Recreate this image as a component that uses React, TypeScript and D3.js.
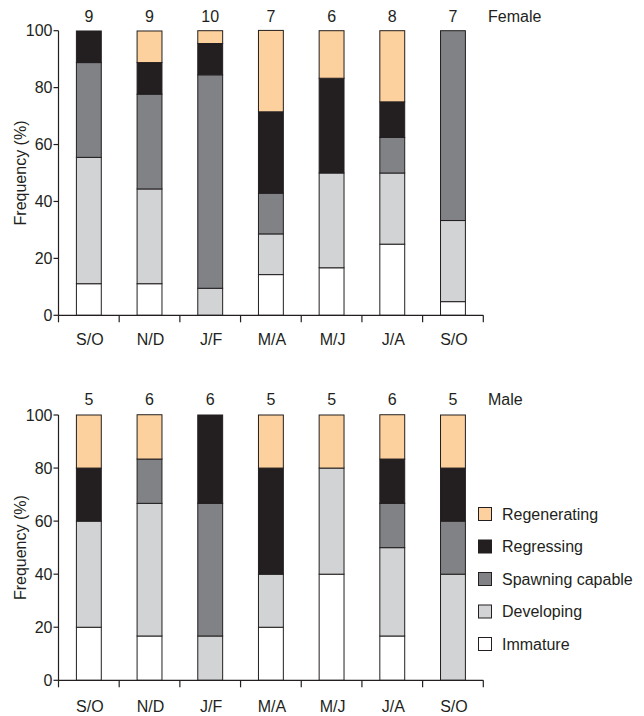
import React, { useEffect, useRef } from 'react'
import * as d3 from 'd3'

const categories = ['S/O', 'N/D', 'J/F', 'M/A', 'M/J', 'J/A', 'S/O ']
const stages = ['Immature', 'Developing', 'Spawning capable', 'Regressing', 'Regenerating']
const stageColors = ['#ffffff', '#d1d3d4', '#808285', '#231f20', '#fdd19d']
const yTicks = [0, 20, 40, 60, 80, 100]

// female, % of fish per stage
const femaleImmature = [11.1, 11.1, 0, 14.3, 16.7, 25, 4.8]
const femaleDeveloping = [44.4, 33.3, 9.5, 14.3, 33.3, 25, 28.5]
const femaleSpawning = [33.3, 33.3, 75, 14.3, 0, 12.5, 66.7]
const femaleRegressing = [11.1, 11.1, 11, 28.6, 33.3, 12.5, 0]
const femaleRegenerating = [0, 11.1, 4.5, 28.6, 16.7, 25, 0]
const femaleN = [9, 9, 10, 7, 6, 8, 7]

// male
const maleImmature = [20, 16.7, 0, 20, 40, 16.7, 0]
const maleDeveloping = [40, 50, 16.7, 20, 40, 33.3, 40]
const maleSpawning = [0, 16.7, 50, 0, 0, 16.7, 20]
const maleRegressing = [20, 0, 33.3, 40, 0, 16.7, 20]
const maleRegenerating = [20, 16.7, 0, 20, 20, 16.7, 20]
const maleN = [5, 6, 6, 5, 5, 6, 5]

const FONT = '"Liberation Sans", Arial, sans-serif'
const INK = '#231f20'

function buildRows(cols: number[][]) {
  return categories.map((c, i) => {
    const row: any = { cat: c }
    stages.forEach((s, j) => { row[s] = cols[j][i] })
    return row
  })
}

function drawPanel(svg: any, rows: any[], counts: number[], label: string, top: number, bottom: number, labelOffset: number, countOffset: number) {
  const left = 58.5
  const right = 483.3

  const x = d3.scaleBand()
    .domain(categories)
    .range([left, right])
    .paddingInner(0.59)
    .paddingOuter(0.295)
  const step = x.step()

  const y = d3.scaleLinear().domain([0, 100]).range([bottom, top])

  const series = d3.stack().keys(stages)(rows)
  const color = d3.scaleOrdinal<string, string>().domain(stages).range(stageColors)

  const g = svg.append('g')

  series.forEach((s: any) => {
    g.selectAll(null)
      .data(s.filter((d: any) => d[1] - d[0] > 0.01))
      .enter()
      .append('rect')
      .attr('x', (d: any) => x(d.data.cat)!)
      .attr('y', (d: any) => y(d[1]))
      .attr('width', x.bandwidth())
      .attr('height', (d: any) => y(d[0]) - y(d[1]))
      .attr('fill', color(s.key))
      .attr('stroke', INK)
      .attr('stroke-width', 1)
  })

  // x axis
  g.append('line')
    .attr('x1', left).attr('x2', right)
    .attr('y1', bottom).attr('y2', bottom)
    .attr('stroke', INK).attr('stroke-width', 1.2)
  d3.range(categories.length + 1).forEach(i => {
    g.append('line')
      .attr('x1', left + i * step).attr('x2', left + i * step)
      .attr('y1', bottom).attr('y2', bottom + 7)
      .attr('stroke', INK).attr('stroke-width', 1.2)
  })
  g.selectAll(null)
    .data(categories)
    .enter()
    .append('text')
    .attr('x', (d: string) => x(d)! + x.bandwidth() / 2 + 1)
    .attr('y', bottom + labelOffset)
    .attr('text-anchor', 'middle')
    .attr('font-size', 16)
    .attr('fill', INK)
    .text((d: string) => d.trim())

  // y axis
  g.append('line')
    .attr('x1', left).attr('x2', left)
    .attr('y1', top).attr('y2', bottom)
    .attr('stroke', INK).attr('stroke-width', 1.2)
  yTicks.forEach(t => {
    g.append('line')
      .attr('x1', left - 5).attr('x2', left)
      .attr('y1', y(t)).attr('y2', y(t))
      .attr('stroke', INK).attr('stroke-width', 1.2)
    g.append('text')
      .attr('x', left - 6)
      .attr('y', y(t))
      .attr('dy', '0.36em')
      .attr('text-anchor', 'end')
      .attr('font-size', 16)
      .attr('fill', INK)
      .text(t)
  })
  g.append('text')
    .attr('transform', `translate(26,${(top + bottom) / 2}) rotate(-90)`)
    .attr('text-anchor', 'middle')
    .attr('font-size', 16)
    .attr('fill', INK)
    .text('Frequency (%)')

  // sample sizes
  g.selectAll(null)
    .data(counts)
    .enter()
    .append('text')
    .attr('x', (d: number, i: number) => x(categories[i])! + x.bandwidth() / 2)
    .attr('y', top - countOffset)
    .attr('text-anchor', 'middle')
    .attr('font-size', 16)
    .attr('fill', INK)
    .text((d: number) => d)

  g.append('text')
    .attr('x', 488)
    .attr('y', top - countOffset)
    .attr('font-size', 16)
    .attr('fill', INK)
    .text(label)
}

export default function App() {
  const ref = useRef<SVGSVGElement>(null)

  useEffect(() => {
    const svg = d3.select(ref.current)
    svg.selectAll('*').remove()
    svg.attr('font-family', FONT)

    drawPanel(svg, buildRows([femaleImmature, femaleDeveloping, femaleSpawning, femaleRegressing, femaleRegenerating]), femaleN, 'Female', 30.7, 315.3, 30, 8.5)
    drawPanel(svg, buildRows([maleImmature, maleDeveloping, maleSpawning, maleRegressing, maleRegenerating]), maleN, 'Male', 415, 680.3, 31.5, 10)

    // legend, top entry first
    const legend = svg.append('g')
    const legendY = d3.scalePoint().domain(stages.slice().reverse()).range([514, 644])
    stages.slice().reverse().forEach(s => {
      const i = stages.indexOf(s)
      legend.append('rect')
        .attr('x', 478.5).attr('y', legendY(s)! - 6.5)
        .attr('width', 13).attr('height', 13)
        .attr('fill', stageColors[i])
        .attr('stroke', INK).attr('stroke-width', 1)
      legend.append('text')
        .attr('x', 502).attr('y', legendY(s)!)
        .attr('dy', '0.36em')
        .attr('font-size', 16)
        .attr('fill', INK)
        .text(s)
    })
  }, [])

  return (
    <svg ref={ref} width={644} height={716} style={{ position: 'absolute', left: 0, top: 0, background: '#fff' }} />
  )
}
